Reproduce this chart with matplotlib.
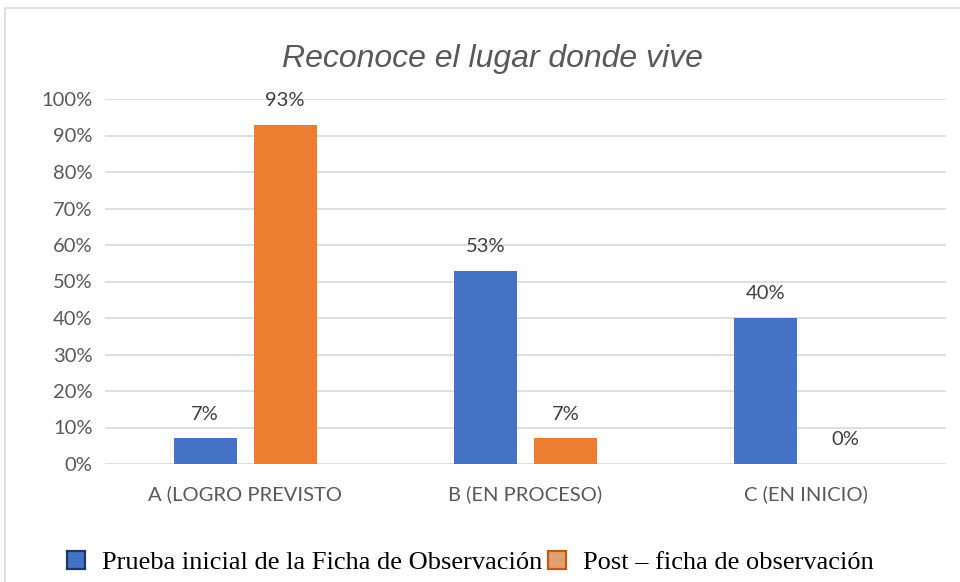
import numpy as np
import matplotlib as mpl
mpl.use('Agg')
import matplotlib.pyplot as plt
from matplotlib.patches import Rectangle
from matplotlib.lines import Line2D

# Datos del grafico
categorias = ["A (LOGRO PREVISTO", "B (EN PROCESO)", "C (EN INICIO)"]
prueba_inicial = [7, 53, 40]
post_ficha = [93, 7, 0]
serie_nombres = ["Prueba inicial de la Ficha de Observación", "Post \u2013 ficha de observación"]
yticks = list(range(0, 101, 10))

azul = "#4472C4"
naranja = "#ED7D31"
gris = "#595959"

fig = plt.figure(figsize=(9.6, 5.82), dpi=100)
fig.patch.set_facecolor("white")
# marco del grafico (recortado a la derecha y abajo)
fig.patches.append(Rectangle((5/960, -0.1), 1.2, 1 - 8/582 + 0.1, transform=fig.transFigure,
                             fill=False, edgecolor="#D9D9D9", linewidth=1.2))

ax = fig.add_axes([105/960, 1 - 464/582, 841/960, 365/582])
x = np.arange(len(categorias))
w = 0.225
b1 = ax.bar(x - w/2 - 0.03, prueba_inicial, width=w, color=azul, zorder=3)
b2 = ax.bar(x + w/2 + 0.03, post_ficha, width=w, color=naranja, zorder=3)

for bars, vals in ((b1, prueba_inicial), (b2, post_ficha)):
    for r, v in zip(bars, vals):
        ax.text(r.get_x() + r.get_width()/2, v + 4.3, f"{v}%", ha="center", va="bottom",
                fontsize=14.5, color="#404040", family="Lato")

ax.set_xlim(-0.5, len(categorias) - 0.5)
ax.set_ylim(0, 100)
ax.set_yticks(yticks)
ax.set_yticklabels([f"{t}%" for t in yticks], fontsize=14.5, color=gris, family="Lato")
ax.set_xticks(x)
ax.set_xticklabels(categorias, fontsize=14.5, color=gris, family="Lato")
ax.tick_params(length=0, pad=9)
ax.tick_params(axis="x", pad=15)
ax.grid(axis="y", color="#D9D9D9", linewidth=1.2, zorder=0)
for s in ax.spines.values():
    s.set_visible(False)

fig.text(492/960, 1 - 59/582, "Reconoce el lugar donde vive", ha="center", va="center",
         fontsize=23, style="italic", color=gris, family="Liberation Sans")

handles = [Line2D([], [], marker="s", linestyle="none", markersize=13, markerfacecolor=azul,
                  markeredgecolor="#1F3864", markeredgewidth=1.6),
           Line2D([], [], marker="s", linestyle="none", markersize=13, markerfacecolor="#E0A070",
                  markeredgecolor="#C55A11", markeredgewidth=1.6)]
fig.legend(handles, serie_nombres, loc="center left", bbox_to_anchor=(52/960, 1 - 562/582),
           ncol=2, frameon=False, prop={"family": "Liberation Serif", "size": 19},
           handletextpad=0.5, columnspacing=0.05, handlelength=1.0, borderaxespad=0)

fig.savefig("out.png", dpi=100, facecolor="white")
